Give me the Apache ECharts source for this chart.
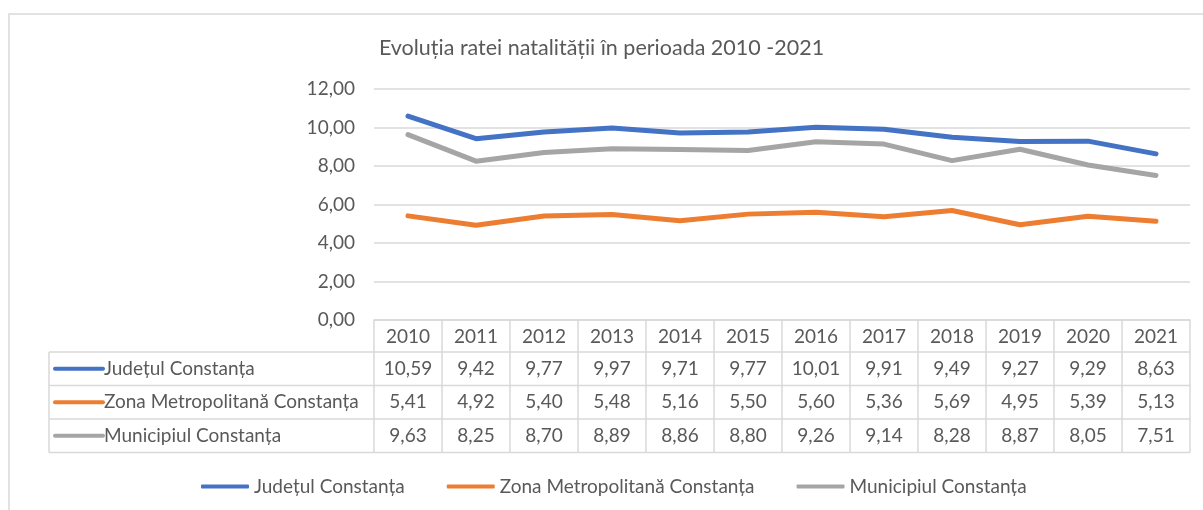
<!DOCTYPE html>
<html>
<head>
<meta charset="utf-8">
<script src="https://cdn.jsdelivr.net/npm/echarts@6/dist/echarts.min.js"></script>
<style>
  html, body { margin: 0; padding: 0; background: #fff; }
  #chart { width: 1203px; height: 510px; }
</style>
</head>
<body>
<div id="chart"></div>
<script>
const years = ['2010', '2011', '2012', '2013', '2014', '2015', '2016', '2017', '2018', '2019', '2020', '2021'];
const judet = [10.59, 9.42, 9.77, 9.97, 9.71, 9.77, 10.01, 9.91, 9.49, 9.27, 9.29, 8.63];
const zona = [5.41, 4.92, 5.40, 5.48, 5.16, 5.50, 5.60, 5.36, 5.69, 4.95, 5.39, 5.13];
const municipiu = [9.63, 8.25, 8.70, 8.89, 8.86, 8.80, 9.26, 9.14, 8.28, 8.87, 8.05, 7.51];
const seriesNames = ['Județul Constanța', 'Zona Metropolitană Constanța', 'Municipiul Constanța'];
const colors = ['#4472C4', '#ED7D31', '#A5A5A5'];

const FONT = 'Lato';
const FS = 19;
const TXT = '#595959';
const LINE = '#D9D9D9';
const fmt = v => v.toFixed(2).replace('.', ',');

const chart = echarts.init(document.getElementById('chart'));
const allSeries = [judet, zona, municipiu];

chart.setOption({
    animation: false,
    textStyle: { fontFamily: FONT },
    title: {
        text: 'Evoluția ratei natalității în perioada 2010 -2021',
        left: 'center',
        top: 32,
        textStyle: { fontFamily: FONT, fontSize: 21.5, fontWeight: 'normal', color: TXT }
    },
    legend: {
        data: seriesNames,
        left: 196,
        top: 472,
        icon: 'roundRect',
        itemWidth: 48,
        itemHeight: 4,
        itemGap: 42,
        textStyle: { fontFamily: FONT, fontSize: FS, color: TXT }
    },
    grid: { left: 374, right: 13, top: 89, bottom: 190 },
    xAxis: {
        type: 'category',
        data: years,
        boundaryGap: true,
        axisLine: { lineStyle: { color: LINE, width: 1.5 } },
        axisTick: { show: false },
        axisLabel: { color: TXT, fontSize: FS, fontFamily: FONT, margin: 7 }
    },
    yAxis: {
        type: 'value',
        min: 0,
        max: 12,
        interval: 2,
        axisLabel: { color: TXT, fontSize: FS, fontFamily: FONT, margin: 19, formatter: fmt },
        splitLine: { lineStyle: { color: LINE, width: 1.5 } }
    },
    series: allSeries.map((d, i) => ({
        name: seriesNames[i],
        type: 'line',
        data: d,
        color: colors[i],
        symbol: 'none',
        lineStyle: { width: 5, cap: 'round', join: 'round' }
    }))
});

// data table under the plot, built from the same arrays
function buildTable() {
    const c0 = chart.convertToPixel({ xAxisIndex: 0 }, 0);
    const c1 = chart.convertToPixel({ xAxisIndex: 0 }, 1);
    const band = c1 - c0;
    const axisY = chart.convertToPixel({ yAxisIndex: 0 }, 0);
    const left = 49;
    const plotL = c0 - band / 2;
    const plotR = c0 + band * (years.length - 0.5);
    const rowTop = axisY + 32;
    const rowH = 33.5;
    const g = [];
    const ls = { stroke: LINE, lineWidth: 1.5 };

    // border around the whole chart
    g.push({ type: 'rect', shape: { x: 9, y: 14, width: 1210, height: 520 },
        style: { fill: null, stroke: LINE, lineWidth: 1.5 }, silent: true });

    for (let r = 0; r <= allSeries.length; r++) {
        const y = rowTop + r * rowH;
        g.push({ type: 'line', shape: { x1: left, y1: y, x2: plotR, y2: y }, style: ls });
    }
    const bottom = rowTop + allSeries.length * rowH;
    g.push({ type: 'line', shape: { x1: left, y1: rowTop, x2: left, y2: bottom }, style: ls });
    for (let i = 0; i <= years.length; i++) {
        const x = plotL + i * band;
        g.push({ type: 'line', shape: { x1: x, y1: axisY, x2: x, y2: bottom }, style: ls });
    }
    allSeries.forEach((d, r) => {
        const cy = rowTop + (r + 0.5) * rowH;
        g.push({ type: 'line', shape: { x1: 55, y1: cy, x2: 103, y2: cy },
            style: { stroke: colors[r], lineWidth: 4, lineCap: 'round' } });
        g.push({ type: 'text', x: 104, y: cy, style: { text: seriesNames[r], fill: TXT,
            font: FS + 'px ' + FONT, textAlign: 'left', textVerticalAlign: 'middle' } });
        d.forEach((v, i) => {
            g.push({ type: 'text', x: chart.convertToPixel({ xAxisIndex: 0 }, i), y: cy,
                style: { text: fmt(v), fill: TXT, font: FS + 'px ' + FONT,
                    textAlign: 'center', textVerticalAlign: 'middle' } });
        });
    });
    chart.setOption({ graphic: g });
}
buildTable();
</script>
</body>
</html>
